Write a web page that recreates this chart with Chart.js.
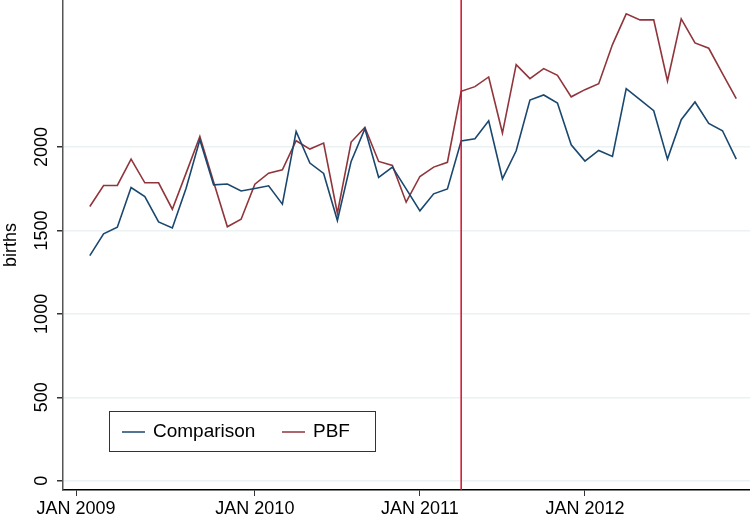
<!DOCTYPE html>
<html>
<head>
<meta charset="utf-8">
<script src="https://cdn.jsdelivr.net/npm/chart.js@4/dist/chart.umd.min.js"></script>
<style>
  body { margin: 0; background: #fff; }
  canvas { display: block; }
</style>
</head>
<body>
<canvas id="birthsChart" width="750" height="521"></canvas>
<script>
// month index 0 = Jan 2009 ... 47 = Dec 2012
const months = Array.from({ length: 48 }, (_, i) => i);

const comparison = [1349, 1479, 1519, 1757, 1703, 1551, 1515, 1753, 2043, 1773, 1778, 1736,
                    1751, 1767, 1657, 2093, 1903, 1841, 1559, 1913, 2109, 1817, 1879, 1749,
                    1617, 1719, 1748, 2035, 2049, 2157, 1809, 1977, 2281, 2311, 2263, 2013,
                    1915, 1979, 1943, 2349, 2283, 2217, 1927, 2163, 2269, 2141, 2097, 1927];

const pbf = [1643, 1769, 1769, 1927, 1785, 1785, 1627, 1843, 2063, 1790, 1522, 1567,
             1777, 1843, 1863, 2037, 1987, 2023, 1603, 2029, 2117, 1913, 1889, 1669,
             1823, 1879, 1908, 2333, 2361, 2419, 2083, 2493, 2409, 2469, 2429, 2300,
             2343, 2379, 2613, 2797, 2761, 2761, 2395, 2767, 2623, 2591, 2439, 2289];

const xTickValues = [-1, 12, 24, 36];
const xTickLabels = ["JAN 2009", "JAN 2010", "JAN 2011", "JAN 2012"];
const yTickValues = [0, 500, 1000, 1500, 2000];
const startMonth = 27; // PBF start, Apr 2011

const fontFamily = "'Liberation Sans', Arial, sans-serif";

// vertical line at programme start
const startLine = {
    id: "startLine",
    afterDatasetsDraw(chart) {
        const { ctx, chartArea, scales } = chart;
        const x = scales.x.getPixelForValue(startMonth);
        ctx.save();
        ctx.strokeStyle = "#d0112b";
        ctx.lineWidth = 1.5;
        ctx.beginPath();
        ctx.moveTo(x, chartArea.top);
        ctx.lineTo(x, chartArea.bottom);
        ctx.stroke();
        ctx.restore();
    }
};

// stata style vertical y tick labels
const yLabels = {
    id: "yLabels",
    afterDraw(chart) {
        const { ctx, scales } = chart;
        const y = scales.y;
        ctx.save();
        ctx.fillStyle = "#000";
        ctx.font = "18px " + fontFamily;
        ctx.textAlign = "center";
        ctx.textBaseline = "middle";
        y.ticks.forEach(t => {
            const py = y.getPixelForValue(t.value);
            ctx.save();
            ctx.translate(y.right - 21, py);
            ctx.rotate(-Math.PI / 2);
            ctx.fillText(String(t.value), 0, 0);
            ctx.restore();
        });
        ctx.restore();
    }
};

// legend box inside the plot
const boxLegend = {
    id: "boxLegend",
    afterDraw(chart) {
        const { ctx } = chart;
        const left = 109, top = 411, w = 266, h = 40;
        ctx.save();
        ctx.fillStyle = "#fff";
        ctx.fillRect(left, top, w, h);
        ctx.strokeStyle = "#333";
        ctx.lineWidth = 1;
        ctx.strokeRect(left + 0.5, top + 0.5, w, h);
        ctx.font = "19px " + fontFamily;
        ctx.textBaseline = "middle";
        ctx.fillStyle = "#000";
        const cy = top + h / 2 + 1;
        const items = [
            { x: 122, textX: 153 },
            { x: 282, textX: 313 }
        ];
        chart.data.datasets.forEach((ds, i) => {
            ctx.strokeStyle = ds.borderColor;
            ctx.lineWidth = 1.5;
            ctx.beginPath();
            ctx.moveTo(items[i].x, cy);
            ctx.lineTo(items[i].x + 23, cy);
            ctx.stroke();
            ctx.fillText(ds.label, items[i].textX, cy);
        });
        ctx.restore();
    }
};

new Chart(document.getElementById("birthsChart").getContext("2d"), {
    type: "line",
    data: {
        labels: months,
        datasets: [
            {
                label: "Comparison",
                data: comparison.map((v, i) => ({ x: months[i], y: v })),
                borderColor: "#1a476f",
                borderWidth: 1.6,
                pointRadius: 0,
                tension: 0,
                fill: false
            },
            {
                label: "PBF",
                data: pbf.map((v, i) => ({ x: months[i], y: v })),
                borderColor: "#90353b",
                borderWidth: 1.6,
                pointRadius: 0,
                tension: 0,
                fill: false
            }
        ]
    },
    options: {
        responsive: false,
        animation: false,
        layout: { padding: 0 },
        plugins: {
            legend: { display: false },
            tooltip: { enabled: false },
            title: { display: false }
        },
        scales: {
            x: {
                type: "linear",
                min: -1.95,
                max: 48,
                afterBuildTicks: scale => { scale.ticks = xTickValues.map(v => ({ value: v })); },
                afterFit: scale => { scale.height = 31; },
                ticks: {
                    color: "#000",
                    font: { family: fontFamily, size: 18 },
                    padding: 2,
                    maxRotation: 0,
                    autoSkip: false,
                    callback: (v) => xTickLabels[xTickValues.indexOf(v)]
                },
                grid: {
                    drawOnChartArea: false,
                    drawTicks: true,
                    tickLength: 6,
                    tickColor: "#333",
                    tickWidth: 1
                },
                border: { color: "#000", width: 1.5 }
            },
            y: {
                min: -55,
                max: 2880,
                afterBuildTicks: scale => { scale.ticks = yTickValues.map(v => ({ value: v })); },
                afterFit: scale => { scale.width = 63; },
                ticks: { display: false },
                title: {
                    display: true,
                    text: "births",
                    color: "#000",
                    font: { family: fontFamily, size: 18 },
                    padding: 0
                },
                grid: {
                    color: "#eaf2f3",
                    lineWidth: 1.5,
                    drawTicks: true,
                    tickLength: 6,
                    tickColor: "#333"
                },
                border: { color: "#555", width: 1.5 }
            }
        }
    },
    plugins: [startLine, yLabels, boxLegend]
});
</script>
</body>
</html>
